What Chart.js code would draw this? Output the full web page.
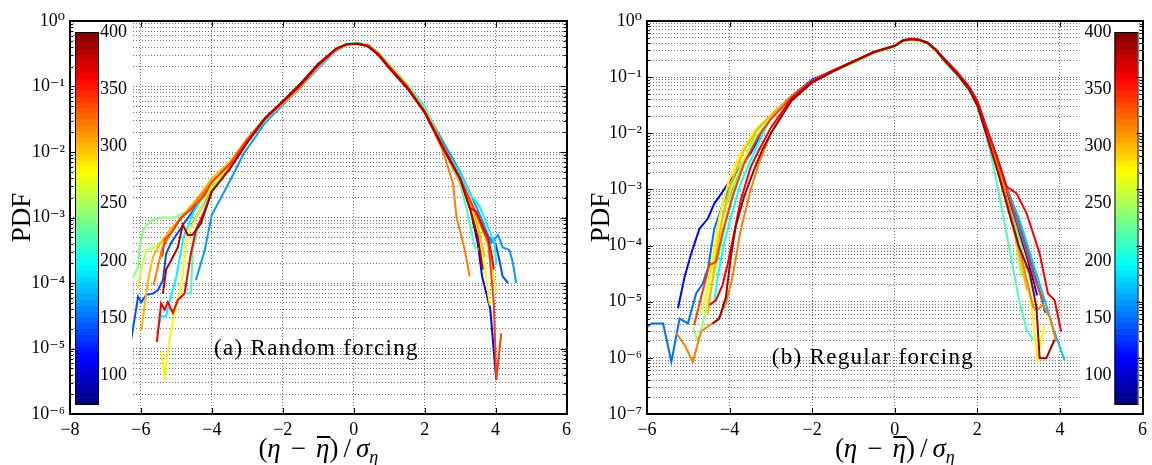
<!DOCTYPE html>
<html>
<head>
<meta charset="utf-8">
<script src="https://cdn.jsdelivr.net/npm/chart.js@4/dist/chart.umd.min.js"></script>
<style>
  body { margin: 0; background: #fff; width: 1152px; height: 465px; overflow: hidden; }
  canvas { position: absolute; top: 0; }
  #panelA { left: 0; }
  #panelB { left: 576px; }
</style>
</head>
<body>
<canvas id="panelA" width="576" height="465"></canvas>
<canvas id="panelB" width="576" height="465"></canvas>
<script>
// ---- axes / colour bar ----
const xTicksA = [-8, -6, -4, -2, 0, 2, 4, 6];
const xTicksB = [-6, -4, -2, 0, 2, 4, 6];
const decadesA = [1e-6, 1e-5, 1e-4, 1e-3, 1e-2, 1e-1, 1];
const decadesB = [1e-7, 1e-6, 1e-5, 1e-4, 1e-3, 1e-2, 1e-1, 1];
const colorTicks = [100, 150, 200, 250, 300, 350, 400];
const colorRange = [75, 400];

// colour value of each curve
const valuesA = [116, 140, 165, 195, 220, 240, 262, 280, 300, 320, 340, 362, 385];
const valuesB = [116, 150, 178, 200, 220, 245, 262, 280, 300, 320, 340, 362, 390];

// ---- (a) random forcing : [x, PDF] ----
const a116 = [[-4.6,7.1e-4],[-4.3,1.4e-3],[-4,3.0e-3],[-3.5,6.0e-3],[-3,1.5e-2],[-2.5,3.3e-2],[-2,5.8e-2],[-1.5,0.11],[-1,0.22],[-0.5,0.37],[-0.2,0.44],[0.1,0.45],[0.4,0.42],[0.7,0.31],[1,0.2],[1.5,0.1],[2,0.043],[2.5,1.3e-2],[3,4.0e-3],[3.3,1.26e-3],[3.5,4.0e-4],[3.62,1.26e-4],[3.85,4.0e-5],[4.02,3.3e-6]];
const a140 = [[-6.27,1.4e-5],[-6.08,6.2e-5],[-5.99,5.1e-5],[-5.85,6.6e-5],[-5.66,6.9e-5],[-5.52,7.8e-5],[-5.38,1.1e-4],[-5.29,2.8e-4],[-5.15,4.1e-4],[-4.8,7.9e-4],[-4.4,1.6e-3],[-4,3.5e-3],[-3.5,6.3e-3],[-3,1.55e-2],[-2.5,3.2e-2],[-2,5.7e-2],[-1.5,0.1],[-1,0.2],[-0.5,0.36],[-0.2,0.44],[0.1,0.46],[0.4,0.43],[0.7,0.32],[1,0.21],[1.5,0.1],[2,0.044],[2.5,1.3e-2],[3,3.9e-3],[3.5,1.0e-3],[3.8,5.0e-4],[4,4.0e-4],[4.11,2.2e-4],[4.2,1.26e-4],[4.35,1.0e-4]];
const a165 = [[-4.45,1.1e-4],[-4.2,3.2e-4],[-4,1.1e-3],[-3.7,2.2e-3],[-3.4,4.5e-3],[-3.1,9.5e-3],[-2.84,1.5e-2],[-2.5,2.8e-2],[-2,5.2e-2],[-1.5,0.097],[-1,0.19],[-0.5,0.35],[-0.2,0.43],[0.1,0.45],[0.4,0.43],[0.7,0.32],[1,0.21],[1.5,0.105],[2,0.046],[2.5,1.5e-2],[3,5.0e-3],[3.5,1.3e-3],[3.88,4.1e-4],[4.07,5.4e-4],[4.2,3.5e-4],[4.39,3.2e-4],[4.49,2.0e-4],[4.58,1.0e-4]];
const a195 = [[-5.55,1.7e-5],[-5.43,3.1e-5],[-5.29,3.1e-5],[-5.2,5.0e-5],[-5,1.26e-4],[-4.8,5.0e-4],[-4.5,1.26e-3],[-4,3.2e-3],[-3.5,6.3e-3],[-3,1.45e-2],[-2.5,3.0e-2],[-2,5.5e-2],[-1.5,0.1],[-1,0.2],[-0.5,0.36],[-0.2,0.44],[0.1,0.46],[0.4,0.44],[0.7,0.33],[1,0.22],[1.5,0.11],[2,0.05],[2.57,1.07e-2],[2.94,5.4e-3],[3.32,2.1e-3],[3.55,1.5e-3],[3.78,7.2e-4],[3.97,4.1e-4],[4.02,1.9e-4]];
const a220 = [[-4.73,6.9e-5],[-4.59,6.9e-5],[-4.54,3.2e-4],[-4.3,1.0e-3],[-4,2.8e-3],[-3.5,6.5e-3],[-3,1.6e-2],[-2.5,3.3e-2],[-2,5.8e-2],[-1.5,0.105],[-1,0.2],[-0.5,0.36],[-0.2,0.45],[0.1,0.46],[0.4,0.43],[0.7,0.32],[1,0.21],[1.5,0.1],[2,0.042],[2.5,1.2e-2],[3,3.2e-3],[3.2,1.26e-3],[3.41,3.5e-4],[3.55,3.2e-4]];
const a240 = [[-6.22,1.2e-4],[-6.08,1.8e-4],[-6.04,3.5e-4],[-5.94,6.5e-4],[-5.71,9.1e-4],[-5.43,1.0e-3],[-5.05,1.0e-3],[-4.77,1.2e-3],[-4.4,1.7e-3],[-4.03,2.6e-3],[-3.5,6.3e-3],[-3,1.6e-2],[-2.5,3.2e-2],[-2,5.6e-2],[-1.5,0.1],[-1,0.2],[-0.5,0.36],[-0.2,0.42],[0.1,0.44],[0.4,0.43],[0.7,0.33],[1,0.22],[1.5,0.11],[2,0.046],[2.5,1.3e-2],[3,4.0e-3],[3.3,1.6e-3],[3.6,5.0e-4]];
const a262 = [[-6.09,8.1e-5],[-5.95,2.0e-4],[-5.84,3.2e-4],[-5.6,3.5e-4],[-5.3,5.0e-4],[-5,7.9e-4],[-4.6,1.4e-3],[-4,3.5e-3],[-3.5,6.3e-3],[-3,1.5e-2],[-2.5,3.2e-2],[-2,5.6e-2],[-1.5,0.1],[-1,0.21],[-0.5,0.37],[-0.2,0.44],[0.1,0.45],[0.4,0.42],[0.7,0.31],[1,0.2],[1.5,0.1],[2,0.042],[2.5,1.26e-2],[3,3.7e-3],[3.4,1.26e-3],[3.7,5.0e-4],[3.9,2.0e-4],[4.02,6.9e-5]];
const a280 = [[-5.43,8.9e-6],[-5.33,3.7e-6],[-5.2,1.35e-5],[-5.05,3.5e-5],[-4.87,8.7e-5],[-4.73,3.5e-4],[-4.63,6.5e-4],[-4.3,1.4e-3],[-4,3.2e-3],[-3.5,6.0e-3],[-3,1.5e-2],[-2.5,3.1e-2],[-2,5.5e-2],[-1.5,0.1],[-1,0.21],[-0.5,0.37],[-0.2,0.44],[0.1,0.45],[0.4,0.42],[0.7,0.31],[1,0.2],[1.5,0.1],[2,0.043],[2.5,1.3e-2],[3,3.5e-3],[3.4,1.0e-3],[3.6,4.0e-4],[3.75,1.0e-4],[3.84,4.6e-5]];
const a300 = [[-5.99,1.9e-5],[-5.8,1.1e-4],[-5.66,2.5e-4],[-5.52,3.5e-4],[-5.2,6.3e-4],[-4.8,1.1e-3],[-4.4,2.0e-3],[-4,4.0e-3],[-3.5,7.0e-3],[-3,1.6e-2],[-2.5,3.3e-2],[-2,5.8e-2],[-1.5,0.105],[-1,0.21],[-0.5,0.37],[-0.2,0.44],[0.1,0.45],[0.4,0.42],[0.7,0.31],[1,0.2],[1.5,0.1],[2,0.041],[2.5,1.2e-2],[3,3.5e-3],[3.4,1.2e-3],[3.7,2.5e-4]];
const a320 = [[-5.64,9.3e-5],[-5.5,2.0e-4],[-5.39,3.5e-4],[-5,7.9e-4],[-4.5,1.6e-3],[-4,3.5e-3],[-3.5,6.3e-3],[-3,1.5e-2],[-2.5,3.2e-2],[-2,5.6e-2],[-1.5,0.1],[-1,0.21],[-0.5,0.37],[-0.2,0.44],[0.1,0.45],[0.4,0.42],[0.7,0.31],[1,0.2],[1.5,0.1],[2,0.04],[2.5,1.1e-2],[2.8,3.3e-3],[2.9,1.0e-3],[3.04,5.1e-4],[3.13,3.2e-4],[3.27,1.26e-4]];
const a340 = [[-5.4,2.5e-4],[-5.33,4.6e-4],[-5.1,6.3e-4],[-4.87,1.0e-3],[-4.6,1.3e-3],[-4.2,2.2e-3],[-4,3.5e-3],[-3.5,6.5e-3],[-3,1.55e-2],[-2.5,3.3e-2],[-2,5.8e-2],[-1.5,0.105],[-1,0.21],[-0.5,0.37],[-0.2,0.44],[0.1,0.45],[0.4,0.42],[0.7,0.31],[1,0.2],[1.5,0.1],[2,0.042],[2.5,1.3e-2],[3,4.0e-3],[3.5,1.0e-3],[3.8,4.0e-4],[3.95,5.0e-5],[4.02,3.3e-6],[4.16,1.7e-5]];
const a362 = [[-5.55,1.26e-5],[-5.43,4.9e-5],[-5.33,3.9e-5],[-5.24,5.1e-5],[-5.1,3.5e-5],[-4.96,5.5e-5],[-4.77,6.9e-5],[-4.59,2.8e-4],[-4.45,6.5e-4],[-4.2,1.26e-3],[-4,2.5e-3],[-3.5,5.5e-3],[-3,1.4e-2],[-2.5,3.2e-2],[-2,5.8e-2],[-1.5,0.105],[-1,0.21],[-0.5,0.37],[-0.2,0.44],[0.1,0.45],[0.4,0.42],[0.7,0.31],[1,0.2],[1.5,0.1],[2,0.042],[2.5,1.2e-2],[3,3.8e-3],[3.27,1.4e-3],[3.46,1.23e-3],[3.64,7.2e-4],[3.78,5.1e-4],[3.9,2.5e-4],[3.95,1.6e-4]];
const a385 = [[-5.38,6.9e-5],[-5.29,1.6e-4],[-5.15,2.2e-4],[-4.96,3.5e-4],[-4.82,7.8e-4],[-4.68,5.4e-4],[-4.55,5.4e-4],[-4.31,8.1e-4],[-4,2.5e-3],[-3.5,5.5e-3],[-3,1.4e-2],[-2.5,3.3e-2],[-2,6.0e-2],[-1.5,0.11],[-1,0.22],[-0.5,0.38],[-0.2,0.44],[0.1,0.45],[0.4,0.41],[0.7,0.3],[1,0.19],[1.5,0.095],[2,0.04],[2.5,1.2e-2],[3,4.0e-3],[3.3,1.26e-3],[3.5,5.0e-4],[3.64,1.6e-4]];

// ---- (b) regular forcing : [x, PDF] ----
const b116 = [[-5.25,7.6e-6],[-5.09,2.75e-5],[-4.93,7.2e-5],[-4.73,2.0e-4],[-4.53,3.0e-4],[-4.37,5.6e-4],[-4.17,9.1e-4],[-3.97,1.5e-3],[-3.73,2.5e-3],[-3.49,4.4e-3],[-3,2.1e-2],[-2.5,4.6e-2],[-2,9.0e-2],[-1.5,0.13],[-1,0.19],[-0.5,0.28],[0,0.36],[0.2,0.45],[0.4,0.48],[0.6,0.46],[0.8,0.41],[1,0.3],[1.2,0.21],[1.5,0.125],[1.8,0.065],[2,3.5e-2],[2.23,1.15e-2],[2.55,1.8e-3],[2.9,3.2e-4],[3.2,6.3e-5],[3.45,1.3e-5]];
const b150 = [[-6.05,3.3e-6],[-5.89,4.1e-6],[-5.61,4.1e-6],[-5.41,8.5e-7],[-5.21,5.0e-6],[-5.01,4.1e-6],[-4.81,1.4e-5],[-4.65,2.1e-5],[-4.52,4.0e-5],[-4.37,2.0e-4],[-4.13,6.5e-4],[-3.89,1.7e-3],[-3.65,3.3e-3],[-3.3,8.9e-3],[-3,2.0e-2],[-2.5,4.5e-2],[-2,8.7e-2],[-1.5,0.13],[-1,0.19],[-0.5,0.28],[0,0.37],[0.2,0.46],[0.4,0.49],[0.6,0.47],[0.8,0.41],[1,0.3],[1.2,0.21],[1.5,0.125],[1.8,0.066],[2,3.6e-2],[2.23,1.2e-2],[2.6,1.8e-3],[3,2.8e-4],[3.3,5.0e-5],[3.5,1.6e-5],[3.65,6.3e-6]];
const b178 = [[-4.5,2.5e-5],[-4.3,1.26e-4],[-4.1,5.0e-4],[-3.85,1.4e-3],[-3.6,3.5e-3],[-3.3,8.9e-3],[-3,1.9e-2],[-2.5,4.4e-2],[-2,8.5e-2],[-1.5,0.125],[-1,0.18],[-0.5,0.27],[0,0.36],[0.2,0.45],[0.4,0.48],[0.6,0.46],[0.8,0.41],[1,0.3],[1.2,0.21],[1.5,0.125],[1.8,0.066],[2,3.6e-2],[2.23,1.1e-2],[2.6,1.6e-3],[3,3.2e-4],[3.3,6.3e-5],[3.6,1.26e-5],[3.85,3.2e-6],[4.11,9.1e-7]];
const b200 = [[-4.37,1.0e-5],[-4.29,2.75e-5],[-4.13,1.1e-4],[-3.97,3.2e-4],[-3.73,1.3e-3],[-3.49,3.3e-3],[-3.2,1.0e-2],[-3,1.8e-2],[-2.5,4.3e-2],[-2,8.3e-2],[-1.5,0.125],[-1,0.18],[-0.5,0.27],[0,0.35],[0.2,0.44],[0.4,0.47],[0.6,0.46],[0.8,0.4],[1,0.3],[1.2,0.2],[1.5,0.12],[1.8,0.063],[2,3.4e-2],[2.23,1.1e-2],[2.6,1.26e-3],[2.95,2.0e-4],[3.2,4.0e-5],[3.4,1.26e-5]];
const b220 = [[-4.3,5.0e-5],[-4.1,2.5e-4],[-3.85,1.1e-3],[-3.6,4.0e-3],[-3.35,1.1e-2],[-3,2.1e-2],[-2.5,4.4e-2],[-2,8.3e-2],[-1.5,0.125],[-1,0.18],[-0.5,0.27],[0,0.35],[0.2,0.44],[0.4,0.47],[0.6,0.45],[0.8,0.4],[1,0.29],[1.2,0.19],[1.5,0.11],[1.8,0.058],[2,3.1e-2],[2.23,8.9e-3],[2.45,1.6e-3],[2.71,1.6e-4],[3.03,9.3e-6],[3.19,3.2e-6],[3.35,2.1e-6]];
const b245 = [[-4.89,3.5e-6],[-4.77,1.95e-6],[-4.65,4.1e-6],[-4.45,1.6e-5],[-4.29,6.3e-5],[-4.09,3.2e-4],[-3.85,1.3e-3],[-3.57,3.8e-3],[-3.3,1.0e-2],[-3,1.9e-2],[-2.5,4.4e-2],[-2,8.4e-2],[-1.5,0.125],[-1,0.18],[-0.5,0.27],[0,0.35],[0.2,0.44],[0.4,0.46],[0.6,0.45],[0.8,0.4],[1,0.29],[1.2,0.2],[1.5,0.115],[1.8,0.06],[2,3.2e-2],[2.23,1.0e-2],[2.6,1.26e-3],[2.9,1.6e-4],[3.07,2.8e-5]];
const b262 = [[-4.6,1.0e-5],[-4.4,5.0e-5],[-4.2,2.8e-4],[-3.95,1.1e-3],[-3.65,3.5e-3],[-3.3,1.0e-2],[-3,1.9e-2],[-2.5,4.4e-2],[-2,8.5e-2],[-1.5,0.13],[-1,0.19],[-0.5,0.28],[0,0.36],[0.2,0.45],[0.4,0.48],[0.6,0.46],[0.8,0.4],[1,0.3],[1.2,0.2],[1.5,0.12],[1.8,0.062],[2,3.3e-2],[2.23,1.05e-2],[2.6,1.4e-3],[2.95,1.6e-4],[3.35,1.9e-5]];
const b280 = [[-4.69,6.2e-6],[-4.53,1.6e-5],[-4.41,5.5e-5],[-4.25,3.2e-4],[-4.01,1.5e-3],[-3.73,4.4e-3],[-3.4,1.1e-2],[-3,2.1e-2],[-2.5,4.5e-2],[-2,8.6e-2],[-1.5,0.13],[-1,0.19],[-0.5,0.28],[0,0.36],[0.2,0.45],[0.4,0.48],[0.6,0.46],[0.8,0.4],[1,0.3],[1.2,0.2],[1.5,0.118],[1.8,0.061],[2,3.2e-2],[2.23,1.0e-2],[2.5,2.0e-3],[2.8,3.2e-4],[3.1,5.0e-5],[3.3,1.0e-5],[3.46,9.1e-7],[3.62,3.8e-6]];
const b300 = [[-4.53,5.8e-6],[-4.45,1.6e-5],[-4.33,6.3e-5],[-4.17,3.2e-4],[-3.97,1.3e-3],[-3.65,5.0e-3],[-3.3,1.26e-2],[-3,2.1e-2],[-2.5,4.5e-2],[-2,8.6e-2],[-1.5,0.13],[-1,0.19],[-0.5,0.28],[0,0.36],[0.2,0.45],[0.4,0.48],[0.6,0.46],[0.8,0.4],[1,0.3],[1.2,0.2],[1.5,0.12],[1.8,0.063],[2,3.3e-2],[2.23,1.1e-2],[2.5,2.2e-3],[2.85,2.5e-4],[3.2,1.6e-5]];
const b320 = [[-5.29,2.75e-6],[-5.09,1.7e-6],[-4.89,8.5e-7],[-4.69,2.95e-6],[-4.49,3.8e-6],[-4.29,4.7e-6],[-4.09,9.3e-6],[-3.93,2.75e-5],[-3.73,1.9e-4],[-3.49,9.8e-4],[-3.29,2.9e-3],[-3,1.0e-2],[-2.5,4.2e-2],[-2,8.5e-2],[-1.5,0.13],[-1,0.19],[-0.5,0.28],[0,0.36],[0.2,0.45],[0.4,0.48],[0.6,0.46],[0.8,0.4],[1,0.3],[1.2,0.2],[1.5,0.12],[1.8,0.064],[2,3.5e-2],[2.23,1.1e-2],[2.5,2.5e-3],[2.8,4.0e-4],[3.1,5.0e-5],[3.35,8.1e-6],[3.45,7.1e-6],[3.59,8.7e-6],[3.75,5.4e-6],[3.91,1.95e-6]];
const b340 = [[-4.86,3.8e-6],[-4.69,1.2e-5],[-4.49,4.5e-5],[-4.33,5.1e-5],[-4.17,1.7e-4],[-3.93,7.4e-4],[-3.65,2.9e-3],[-3.3,8.9e-3],[-3,1.8e-2],[-2.5,4.4e-2],[-2,8.6e-2],[-1.5,0.13],[-1,0.19],[-0.5,0.28],[0,0.36],[0.2,0.45],[0.4,0.48],[0.6,0.46],[0.8,0.41],[1,0.3],[1.2,0.21],[1.5,0.122],[1.8,0.065],[2,3.6e-2],[2.23,1.2e-2],[2.5,3.2e-3],[2.8,6.3e-4],[3.1,1.26e-4],[3.4,2.5e-5],[3.6,1.0e-5]];
const b362 = [[-4.49,8.7e-6],[-4.33,1.07e-5],[-4.17,2.0e-5],[-4.05,4.5e-5],[-3.89,1.7e-4],[-3.73,6.5e-4],[-3.49,2.5e-3],[-3.29,5.0e-3],[-3,1.26e-2],[-2.5,4.2e-2],[-2,8.5e-2],[-1.5,0.13],[-1,0.19],[-0.5,0.28],[0,0.36],[0.2,0.45],[0.4,0.48],[0.6,0.46],[0.8,0.41],[1,0.31],[1.2,0.21],[1.5,0.125],[1.8,0.068],[2,3.8e-2],[2.23,1.2e-2],[2.47,4.0e-3],[2.71,1.12e-3],[2.95,8.5e-4],[3.19,3.8e-4],[3.51,7.2e-5],[3.71,1.4e-5],[3.87,1.07e-5],[4.03,2.95e-6]];
const b390 = [[-4.41,4.1e-6],[-4.25,5.0e-6],[-4.09,1.2e-5],[-3.97,6.3e-5],[-3.85,2.2e-4],[-3.65,7.4e-4],[-3.41,2.2e-3],[-3.21,5.0e-3],[-3,1.0e-2],[-2.5,3.8e-2],[-2,8.0e-2],[-1.5,0.125],[-1,0.19],[-0.5,0.28],[0,0.36],[0.2,0.45],[0.4,0.48],[0.6,0.46],[0.8,0.4],[1,0.3],[1.2,0.2],[1.5,0.115],[1.8,0.06],[2,3.1e-2],[2.23,8.9e-3],[2.5,2.0e-3],[2.8,3.2e-4],[3,1.0e-4],[3.27,3.2e-5],[3.43,8.1e-6],[3.51,9.8e-7],[3.67,9.8e-7],[3.87,2.1e-6]];

const seriesA = [a116, a140, a165, a195, a220, a240, a262, a280, a300, a320, a340, a362, a385];
const seriesB = [b116, b150, b178, b200, b220, b245, b262, b280, b300, b320, b340, b362, b390];

const SERIF = "'Liberation Serif', 'DejaVu Serif', serif";
const GRID = 'rgba(0,0,0,0.55)';
const SUP = {'0':'\u2070','1':'\u00b9','2':'\u00b2','3':'\u00b3','4':'\u2074','5':'\u2075','6':'\u2076','7':'\u2077','8':'\u2078','9':'\u2079','-':'\u207b'};

// matlab-like jet colormap
function jet(t) {
  t = Math.min(1, Math.max(0, t));
  const c = x => Math.round(255 * Math.min(1, Math.max(0, 1.5 - Math.abs(x))));
  return `rgb(${c(4 * t - 3)},${c(4 * t - 2)},${c(4 * t - 1)})`;
}
const colorOf = v => jet((v - colorRange[0]) / (colorRange[1] - colorRange[0]));
const isDecade = v => Math.abs(Math.log10(v) - Math.round(Math.log10(v))) < 1e-6;
const powLabel = v => '10' + String(Math.round(Math.log10(v))).split('').map(c => SUP[c]).join('');

function drawXTitle(ctx, cx, base) {
  const rm = `27px ${SERIF}`, it = `italic 27px ${SERIF}`, sub = `italic 18px ${SERIF}`;
  const parts = [
    {t: '(', f: rm}, {t: '\u03b7', f: it}, {t: '\u2212', f: rm, gap: 10},
    {t: '\u03b7', f: it, bar: true}, {t: ')', f: rm}, {t: '/', f: rm, gap: 5},
    {t: '\u03c3', f: it}, {t: '\u03b7', f: sub, dy: 6}
  ];
  let w = 0;
  parts.forEach(p => { ctx.font = p.f; p.w = ctx.measureText(p.t).width; w += p.w + 2 * (p.gap || 0); });
  let x = cx - w / 2;
  ctx.textAlign = 'left'; ctx.textBaseline = 'alphabetic';
  parts.forEach(p => {
    x += p.gap || 0;
    ctx.font = p.f;
    ctx.fillText(p.t, x, base + (p.dy || 0));
    if (p.bar) ctx.fillRect(x + 1, base - 21, p.w, 2);
    x += p.w + (p.gap || 0);
  });
}

const overlay = {
  id: 'overlay',
  afterDraw(chart, args, o) {
    const {ctx, chartArea: a} = chart;
    const xs = chart.scales.x, ys = chart.scales.y;
    ctx.save();
    ctx.fillStyle = '#000';

    // panel caption
    ctx.font = `23px ${SERIF}`;
    ctx.textAlign = 'center'; ctx.textBaseline = 'middle';
    ctx.letterSpacing = '1.3px';
    ctx.fillText(o.caption, xs.getPixelForValue(o.captionAt[0]), ys.getPixelForValue(o.captionAt[1]));
    ctx.letterSpacing = '0px';

    // colour bar
    const cbW = 23, top = a.top + 11, bot = a.bottom - 10;
    const left = o.cbSide === 'left' ? a.left + 5 : a.right - 28;
    ctx.fillStyle = '#fff';
    if (o.cbSide === 'left') ctx.fillRect(left, a.top + 1, cbW + 34, a.bottom - a.top - 2);
    else ctx.fillRect(left - 35, a.top + 1, cbW + 35, a.bottom - a.top - 2);
    const n = 64, h = (bot - top) / n;
    for (let i = 0; i < n; i++) {
      ctx.fillStyle = jet((i + 0.5) / n);
      ctx.fillRect(left, bot - (i + 1) * h, cbW, h + 0.6);
    }
    ctx.strokeStyle = '#000'; ctx.lineWidth = 1;
    ctx.strokeRect(left + 0.5, top + 0.5, cbW, bot - top);
    const span = colorRange[1] - colorRange[0];
    ctx.fillStyle = '#000';
    ctx.font = `18px ${SERIF}`;
    ctx.textBaseline = 'middle';
    ctx.textAlign = o.cbSide === 'left' ? 'left' : 'right';
    colorTicks.forEach(v => {
      const y = bot - (v - colorRange[0]) / span * (bot - top);
      ctx.fillText(String(v), o.cbSide === 'left' ? left + cbW + 2 : left - 3, y);
    });

    // inward ticks + box
    ctx.beginPath();
    ys.ticks.forEach(t => {
      const y = Math.round(ys.getPixelForValue(t.value)) + 0.5;
      const len = isDecade(t.value) ? 6 : 3;
      ctx.moveTo(a.left, y); ctx.lineTo(a.left + len, y);
      ctx.moveTo(a.right, y); ctx.lineTo(a.right - len, y);
    });
    xs.ticks.forEach(t => {
      const x = Math.round(xs.getPixelForValue(t.value)) + 0.5;
      ctx.moveTo(x, a.top); ctx.lineTo(x, a.top + 6);
      ctx.moveTo(x, a.bottom); ctx.lineTo(x, a.bottom - 6);
    });
    ctx.stroke();
    ctx.lineWidth = 2;
    ctx.strokeRect(Math.round(a.left), Math.round(a.top), Math.round(a.right - a.left), Math.round(a.bottom - a.top));

    // axis titles
    ctx.fillStyle = '#000';
    ctx.save();
    ctx.translate(o.pdfX, (a.top + a.bottom) / 2);
    ctx.rotate(-Math.PI / 2);
    ctx.font = `27px ${SERIF}`;
    ctx.textAlign = 'center'; ctx.textBaseline = 'middle';
    ctx.fillText('PDF', 0, 0);
    ctx.restore();
    drawXTitle(ctx, (a.left + a.right) / 2, 457);
    ctx.restore();
  }
};

function makePanel(id, p) {
  const datasets = p.series.map((s, i) => ({
    data: s.map(pt => ({x: pt[0], y: pt[1]})),
    borderColor: colorOf(p.values[i]),
    borderWidth: 2,
    pointRadius: 0,
    fill: false,
    tension: 0,
    order: 400 - p.values[i]
  }));
  return new Chart(document.getElementById(id), {
    type: 'line',
    data: {datasets},
    plugins: [overlay],
    options: {
      responsive: false,
      animation: false,
      devicePixelRatio: 1,
      layout: {padding: {left: 0, top: 21, right: p.padRight, bottom: 0}},
      plugins: {
        legend: {display: false},
        tooltip: {enabled: false},
        overlay: p.overlay
      },
      scales: {
        x: {
          type: 'linear',
          min: p.xTicks[0],
          max: p.xTicks[p.xTicks.length - 1],
          afterBuildTicks: s => { s.ticks = p.xTicks.map(v => ({value: v})); },
          afterFit: s => { s.height = 51; },
          ticks: {
            autoSkip: false, maxRotation: 0, padding: 5, color: '#000',
            font: {family: SERIF, size: 18},
            callback: v => v < 0 ? '\u2212' + Math.abs(v) : String(v)
          },
          grid: {color: GRID, lineWidth: 1, drawTicks: false},
          border: {display: false, dash: [1, 2]}
        },
        y: {
          type: 'logarithmic',
          min: p.decades[0],
          max: p.decades[p.decades.length - 1],
          afterBuildTicks: s => {
            const t = [];
            p.decades.forEach((d, i) => {
              t.push({value: d});
              if (i < p.decades.length - 1) for (let m = 2; m <= 9; m++) t.push({value: d * m});
            });
            s.ticks = t;
          },
          afterFit: s => { s.width = p.yWidth; },
          ticks: {
            autoSkip: false, padding: 5, color: '#000',
            font: {family: SERIF, size: 18},
            callback: v => isDecade(v) ? powLabel(v) : ''
          },
          grid: {color: GRID, lineWidth: 1, drawTicks: false},
          border: {display: false, dash: [1, 2]}
        }
      }
    }
  });
}

makePanel('panelA', {
  series: seriesA, values: valuesA, xTicks: xTicksA, decades: decadesA,
  yWidth: 70, padRight: 7,
  overlay: {cbSide: 'left', caption: '(a) Random forcing', captionAt: [-1.05, 1e-5], pdfX: 23}
});
makePanel('panelB', {
  series: seriesB, values: valuesB, xTicks: xTicksB, decades: decadesB,
  yWidth: 71, padRight: 5,
  overlay: {cbSide: 'right', caption: '(b) Regular forcing', captionAt: [-0.53, 1e-6], pdfX: 26}
});
</script>
</body>
</html>
